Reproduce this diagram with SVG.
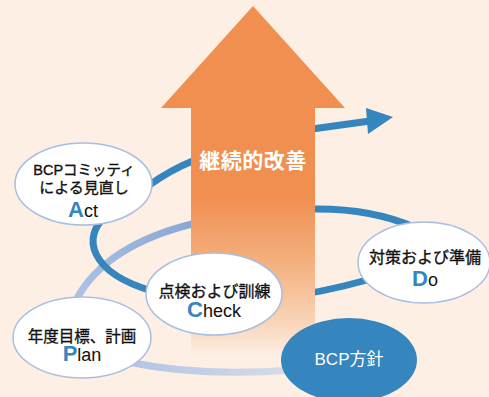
<svg xmlns="http://www.w3.org/2000/svg" width="489" height="397" viewBox="0 0 489 397">
<defs>
<linearGradient id="shaftGrad" gradientUnits="userSpaceOnUse" x1="0" y1="108" x2="0" y2="356">
<stop offset="0" stop-color="#F08F50"/>
<stop offset="0.36" stop-color="#F08F50"/>
<stop offset="0.62" stop-color="#F4AF7E"/>
<stop offset="0.86" stop-color="#F9D4B7"/>
<stop offset="1" stop-color="#FDEFE4"/>
</linearGradient>
<linearGradient id="ringLeft" gradientUnits="userSpaceOnUse" x1="192" y1="224" x2="76" y2="300">
<stop offset="0" stop-color="#88A8D4"/>
<stop offset="1" stop-color="#AEC3E3"/>
</linearGradient>
<linearGradient id="ringBottom" gradientUnits="userSpaceOnUse" x1="130" y1="362" x2="290" y2="370">
<stop offset="0" stop-color="#B3C4E4"/>
<stop offset="1" stop-color="#D6DBE9"/>
</linearGradient>
<linearGradient id="ringRight" gradientUnits="userSpaceOnUse" x1="315" y1="209" x2="412" y2="226">
<stop offset="0" stop-color="#4A8FC8"/>
<stop offset="1" stop-color="#3585BE"/>
</linearGradient>
</defs>
<style>
.bg{fill:#FDEFE4}
.dark{fill:none;stroke:#3585BE;stroke-width:7}
.light{fill:none;stroke-width:7}
.node{fill:#FFFFFF;stroke:#A9BFE1;stroke-width:1.5}
.jp{font-family:"Liberation Sans","Noto Sans CJK JP",sans-serif;fill:#111111;stroke:#111111;stroke-width:0.35;text-anchor:middle}
.lat{font-family:"Liberation Sans",sans-serif;font-weight:normal;fill:#111111;stroke:none}
.big{font-family:"Liberation Sans",sans-serif;font-weight:bold;fill:#3585BE;stroke:none}
.title{font-family:"Noto Sans CJK JP",sans-serif;font-weight:bold;fill:#FFFFFF;text-anchor:middle}
</style>
<rect class="bg" x="0" y="0" width="489" height="397"/>
<g id="connectors">
<path class="light" stroke="url(#ringBottom)" d="M128,362 Q200,377 292,370"/>
<path class="light" stroke="url(#ringLeft)" d="M196,223 C150,234 100,255 76,300"/>
<path class="dark" stroke="url(#ringRight)" d="M312,209 Q370,208 414,227"/>
<path class="dark" d="M278,298 Q320,293 367,280"/>
<path class="dark" d="M106,216 C82,236 88,272 152,291"/>
<path class="dark" d="M148,186 Q170,170 195,160"/>
<path class="dark" stroke-width="8" d="M312,129 L370,121"/>
<polygon fill="#3585BE" points="366,108 393,117 368,134"/>
</g>
<g id="improvement-arrow">
<polygon fill="#F08F50" points="253,6 345,108 161,108"/>
<rect x="191" y="107" width="124" height="249" fill="url(#shaftGrad)"/>
<text class="title" x="253" y="168" font-size="21" letter-spacing="0.5">継続的改善</text>
</g>
<g id="node-act">
<ellipse class="node" cx="83.5" cy="184" rx="68.5" ry="41"/>
<text class="jp" x="84" y="175" font-size="14.5">BCPコミッティ</text>
<text class="jp" x="84" y="193" font-size="15">による見直し</text>
<text class="jp" x="83" y="217"><tspan class="big" font-size="22">A</tspan><tspan class="lat" font-size="18">ct</tspan></text>
</g>
<g id="node-check">
<ellipse class="node" cx="214" cy="294" rx="68" ry="41"/>
<text class="jp" x="214.5" y="297" font-size="16">点検および訓練</text>
<text class="jp" x="214" y="317"><tspan class="big" font-size="22">C</tspan><tspan class="lat" font-size="18">heck</tspan></text>
</g>
<g id="node-do">
<ellipse class="node" cx="424" cy="262.5" rx="66" ry="40.5"/>
<text class="jp" x="425" y="263" font-size="16">対策および準備</text>
<text class="jp" x="425" y="286"><tspan class="big" font-size="22">D</tspan><tspan class="lat" font-size="18">o</tspan></text>
</g>
<g id="node-plan">
<ellipse class="node" cx="82" cy="337.5" rx="69" ry="40.5"/>
<text class="jp" x="82" y="342" font-size="15.5">年度目標、計画</text>
<text class="jp" x="82" y="361"><tspan class="big" font-size="22">P</tspan><tspan class="lat" font-size="18">lan</tspan></text>
</g>
<g id="node-policy">
<ellipse cx="349" cy="360" rx="68" ry="42" fill="#3585BE"/>
<text x="349" y="365" font-size="17" text-anchor="middle" fill="#FFFFFF" font-family="Liberation Sans,Noto Sans CJK JP,sans-serif">BCP方針</text>
</g>
</svg>
